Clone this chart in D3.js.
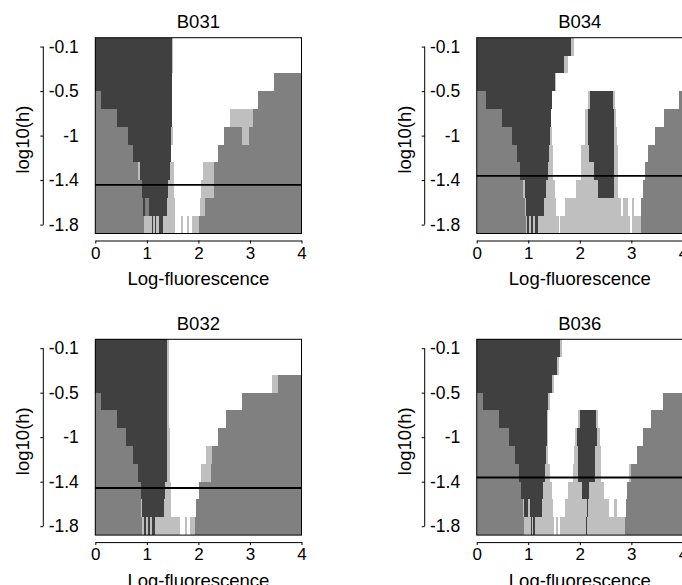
<!DOCTYPE html>
<html>
<head>
<meta charset="utf-8">
<script src="https://cdn.jsdelivr.net/npm/d3@7"></script>
<style>
  body { margin: 0; background: #fff; }
  svg { display: block; font-family: 'Liberation Sans', Arial, sans-serif; }
</style>
</head>
<body>
<div id="chart"></div>
<script>
//
// DATA
//

const panelNames = ['B031', 'B034', 'B032', 'B036'];
// bandwidth grid, one map row per level
const bandwidths = [-0.1, -0.27, -0.44, -0.61, -0.78, -0.95, -1.12, -1.29, -1.46, -1.63, -1.8];
const yTicks = [-0.1, -0.525, -0.95, -1.375, -1.8];
const yTickLabels = ['-0.1', '-0.5', '-1', '-1.4', '-1.8'];
const xTicks = [0, 1, 2, 3, 4];
const refLines = [-1.42, -1.335, -1.435, -1.335];
const shades = { D: '#404040', M: '#808080', L: '#bfbfbf', W: '#ffffff' };

// each row: shade letter + right end of the run
const mapB031 = [
    'D1.49 L1.51 W4',
    'D1.49 L1.51 W4',
    'D1.49 W3.46 M4',
    'M0.11 D1.49 W3.16 M4',
    'M0.42 D1.49 W2.62 L3.06 M4',
    'M0.63 D1.47 L1.51 W2.50 M2.84 L2.98 M4',
    'M0.73 D1.47 W2.38 M4',
    'M0.83 L0.87 D1.44 L1.52 W2.08 L2.31 M4',
    'M0.91 D1.41 L1.52 W2.06 L2.30 M4',
    'M0.93 D0.97 M1.04 D1.39 L1.54 W2.04 L2.12 M4',
    'M0.94 L1.10 D1.12 L1.15 D1.18 L1.23 D1.32 L1.55 W1.67 L1.71 W1.77 L1.81 W1.88 L2.02 M4'
];
const mapB034 = [
    'D1.83 L1.88 W4',
    'D1.70 L1.77 W4',
    'D1.52 L1.54 W4',
    'M0.19 D1.47 W2.15 L2.20 D2.65 L2.69 W3.93 M4',
    'M0.49 D1.45 W2.10 L2.16 D2.66 L2.71 W3.64 M4',
    'M0.68 D1.42 L1.47 W2.10 L2.16 D2.67 L2.72 W3.46 M4',
    'M0.78 D1.41 L1.48 W2.03 L2.18 D2.67 L2.74 W3.33 M4',
    'M0.84 D1.39 L1.48 W2.03 L2.27 D2.67 L2.74 W3.26 M4',
    'M0.89 L0.93 D1.34 L1.52 W1.92 L2.36 D2.67 L2.74 W3.22 M4',
    'M0.93 L0.96 D1.31 L1.53 W1.71 L2.80 W2.84 L2.94 W3.02 L3.06 W3.18 M4',
    'M0.95 L0.98 D1.02 L1.06 D1.10 L1.14 D1.18 L1.59 W1.62 L2.98 W3.02 L3.18 M4'
];
const mapB032 = [
    'D1.40 L1.43 W4',
    'D1.40 L1.43 W4',
    'D1.40 L1.43 W3.43 L3.55 M4',
    'M0.11 D1.40 L1.43 W2.85 M4',
    'M0.42 D1.40 L1.43 W2.54 M4',
    'M0.60 D1.40 L1.44 W2.38 M4',
    'M0.73 D1.40 L1.44 W2.14 L2.27 M4',
    'M0.83 D1.40 L1.45 W2.06 L2.25 M4',
    'M0.89 D1.35 L1.46 W2.02 M4',
    'M0.89 L0.91 D1.33 L1.46 W1.96 M4',
    'M0.90 L0.95 D0.99 L1.02 D1.06 L1.10 D1.15 L1.65 W1.74 L1.77 W1.84 L1.94 M4'
];
const mapB036 = [
    'D1.62 L1.66 W4',
    'D1.55 L1.60 W4',
    'D1.46 L1.49 W4',
    'M0.12 D1.39 L1.42 W3.62 M4',
    'M0.43 D1.36 L1.38 W1.97 L2.01 D2.32 L2.36 W3.38 M4',
    'M0.63 D1.37 L1.39 W1.91 L1.95 D2.33 L2.40 W3.22 M4',
    'M0.74 D1.34 L1.39 W1.88 L1.96 D2.29 L2.41 W3.11 M4',
    'M0.82 D1.33 L1.42 W1.86 L1.97 D2.29 L2.41 W2.96 L3.00 M4',
    'M0.85 D1.29 L1.46 W1.77 L2.05 D2.18 L2.47 W2.91 M4',
    'M0.89 L0.91 D1.00 L1.04 D1.26 L1.48 W1.71 L2.14 D2.16 L2.57 W2.67 L2.73 W2.89 M4',
    'M0.92 L1.05 D1.08 L1.10 D1.14 L1.50 W1.53 L1.58 W1.62 L2.12 D2.14 L2.87 M4'
];
const maps = [mapB031, mapB034, mapB032, mapB036];

//
// LAYOUT
//

const width = 682;
const height = 585;
const boxW = 206.2;
const boxH = 195.8;
const origins = [[95.3, 37.7], [476.7, 37.7], [95.3, 339.3], [476.7, 339.3]];

const svg = d3.select('#chart')
    .append('svg')
        .attr('width', width)
        .attr('height', height);

const step = Math.abs(bandwidths[1] - bandwidths[0]);
const x = d3.scaleLinear()
    .domain([0, 4])
    .range([0, boxW]);
const y = d3.scaleLinear()
    .domain([d3.min(bandwidths) - step / 2, d3.max(bandwidths) + step / 2])
    .range([boxH, 0]);

// turn 'D1.49 L1.51 W4' into runs
function parseRow(str) {
    let start = 0;
    return str.split(' ').map(tok => {
        const run = { shade: tok[0], x0: start, x1: +tok.slice(1) };
        start = run.x1;
        return run;
    });
}

panelNames.forEach((name, p) => drawPanel(name, maps[p], refLines[p], origins[p]));

function drawPanel(name, rows, ref, origin) {

    const g = svg.append('g')
        .attr('transform', `translate(${origin[0]},${origin[1]})`);

    // map cells
    rows.forEach((row, i) => {
        const level = bandwidths[i];
        g.append('g')
            .selectAll('rect')
            .data(parseRow(row))
            .join('rect')
                .attr('x', d => x(d.x0))
                .attr('width', d => x(d.x1) - x(d.x0))
                .attr('y', y(level + step / 2))
                .attr('height', y(level - step / 2) - y(level + step / 2))
                .attr('fill', d => shades[d.shade])
                .attr('shape-rendering', 'crispEdges');
    });

    // reference bandwidth
    g.append('line')
        .attr('x1', x(0))
        .attr('x2', x(4))
        .attr('y1', y(ref))
        .attr('y2', y(ref))
        .attr('stroke', 'black')
        .attr('stroke-width', 1.8);

    // box
    g.append('rect')
        .attr('x', 0)
        .attr('y', 0)
        .attr('width', boxW)
        .attr('height', boxH)
        .attr('fill', 'none')
        .attr('stroke', 'black')
        .attr('stroke-width', 1);

    // x axis
    const xAxis = g.append('g')
        .attr('transform', `translate(0,${boxH + 7})`)
        .call(d3.axisBottom(x)
            .tickValues(xTicks)
            .tickFormat(d3.format('d'))
            .tickSize(3)
            .tickSizeOuter(0));
    xAxis.selectAll('text')
        .attr('font-size', 17)
        .attr('font-family', 'Liberation Sans, Arial, sans-serif')
        .attr('fill', 'black');

    // y axis, labels sit inside the axis line
    const yAxis = g.append('g')
        .attr('transform', 'translate(-52,0)')
        .call(d3.axisLeft(y)
            .tickValues(yTicks)
            .tickFormat((d, i) => yTickLabels[i])
            .tickSize(3)
            .tickSizeOuter(0));
    yAxis.select('.domain').remove();
    yAxis.append('line')
        .attr('y1', y(yTicks[0]))
        .attr('y2', y(yTicks[yTicks.length - 1]))
        .attr('stroke', 'black');
    yAxis.selectAll('text')
        .attr('x', 35.5)
        .attr('text-anchor', 'end')
        .attr('font-size', 17.5)
        .attr('font-family', 'Liberation Sans, Arial, sans-serif')
        .attr('fill', 'black');

    // titles
    g.append('text')
        .attr('x', boxW / 2)
        .attr('y', -9.5)
        .attr('text-anchor', 'middle')
        .attr('font-size', 18.5)
        .text(name);
    g.append('text')
        .attr('x', boxW / 2)
        .attr('y', boxH + 51.5)
        .attr('text-anchor', 'middle')
        .attr('font-size', 18.5)
        .text('Log-fluorescence');
    g.append('text')
        .attr('transform', `translate(-66,${boxH / 2 + 4}) rotate(-90)`)
        .attr('text-anchor', 'middle')
        .attr('font-size', 18.5)
        .text('log10(h)');
}
</script>
</body>
</html>
